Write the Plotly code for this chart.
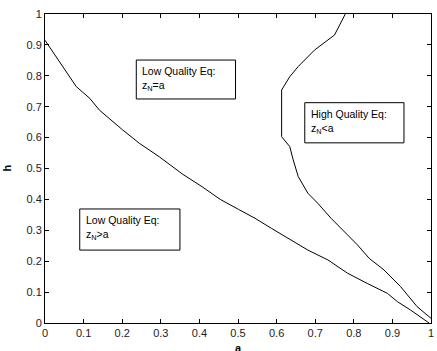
import plotly.graph_objects as go

# Lower boundary (Low Quality Eq: z_N > a  below / z_N = a above)
low_a = [0.0, 0.051, 0.081, 0.116, 0.141, 0.201, 0.244, 0.296, 0.343, 0.356, 0.407,
         0.454, 0.501, 0.544, 0.587, 0.638, 0.681, 0.733, 0.784, 0.835, 0.887, 0.913,
         0.947, 0.995]
low_h = [0.915, 0.819, 0.765, 0.727, 0.689, 0.625, 0.582, 0.538, 0.495, 0.482, 0.441,
         0.400, 0.368, 0.339, 0.306, 0.269, 0.236, 0.204, 0.161, 0.128, 0.096, 0.069,
         0.042, 0.0]

# Upper boundary (High Quality Eq region to the right)
up_a = [0.778, 0.75, 0.698, 0.656, 0.634, 0.613, 0.613, 0.634, 0.643, 0.656, 0.681,
        0.707, 0.741, 0.776, 0.81, 0.84, 0.878, 0.921, 0.964, 1.0]
up_h = [1.0, 0.932, 0.883, 0.83, 0.797, 0.754, 0.603, 0.571, 0.528, 0.474, 0.42,
        0.387, 0.339, 0.296, 0.252, 0.209, 0.172, 0.118, 0.053, 0.015]

tick_vals = [0, 0.1, 0.2, 0.3, 0.4, 0.5, 0.6, 0.7, 0.8, 0.9, 1]
tick_text = ["0", "0.1", "0.2", "0.3", "0.4", "0.5", "0.6", "0.7", "0.8", "0.9", "1"]

box_labels = ["Low Quality Eq:<br>z<sub>N</sub>=a",
              "High Quality Eq:<br>z<sub>N</sub><a",
              "Low Quality Eq:<br>z<sub>N</sub>>a"]
# boxes: x0, x1, y0, y1 (data coords)
boxes = [(0.2365, 0.4936, 0.725, 0.851),
         (0.673, 0.930, 0.583, 0.713),
         (0.090, 0.3496, 0.236, 0.369)]

FONT = "Liberation Sans, Arial, sans-serif"

fig = go.Figure()
fig.add_trace(go.Scatter(x=low_a, y=low_h, mode="lines",
                         line=dict(color="black", width=1), showlegend=False))
fig.add_trace(go.Scatter(x=up_a, y=up_h, mode="lines",
                         line=dict(color="black", width=1), showlegend=False))

for (x0, x1, y0, y1), lab in zip(boxes, box_labels):
    fig.add_shape(type="rect", xref="x", yref="y", x0=x0, x1=x1, y0=y0, y1=y1,
                  line=dict(color="black", width=1), fillcolor="white", layer="above")
    fig.add_annotation(x=x0, y=y1, xref="x", yref="y", text=lab, showarrow=False,
                       xanchor="left", yanchor="top", align="left", xshift=4, yshift=-3,
                       font=dict(family=FONT, size=10.5, color="black"))

axis_common = dict(range=[0, 1], tickvals=tick_vals, ticktext=tick_text,
                   ticks="inside", ticklen=4, tickcolor="black", showline=True,
                   linecolor="black", linewidth=1, mirror="ticks", showgrid=False,
                   zeroline=False, ticklabeloverflow="allow",
                   tickfont=dict(family=FONT, size=11, color="#222"))

fig.update_layout(
    width=437, height=351,
    margin=dict(l=45, r=3, t=14, b=28),
    paper_bgcolor="white", plot_bgcolor="white",
    xaxis=axis_common, yaxis=axis_common,
)

fig.add_annotation(x=0.5, y=0, xref="paper", yref="paper", text="<b>a</b>",
                   showarrow=False, yanchor="top", yshift=-17,
                   font=dict(family=FONT, size=11, color="black"))
fig.add_annotation(x=0, y=0.5, xref="paper", yref="paper", text="<b>h</b>",
                   showarrow=False, textangle=-90, xanchor="right", xshift=-31,
                   font=dict(family=FONT, size=11, color="black"))

fig.write_html("out.html", config={"displayModeBar": False},
               post_script="document.body.style.margin='0';document.body.style.overflow='hidden';")
